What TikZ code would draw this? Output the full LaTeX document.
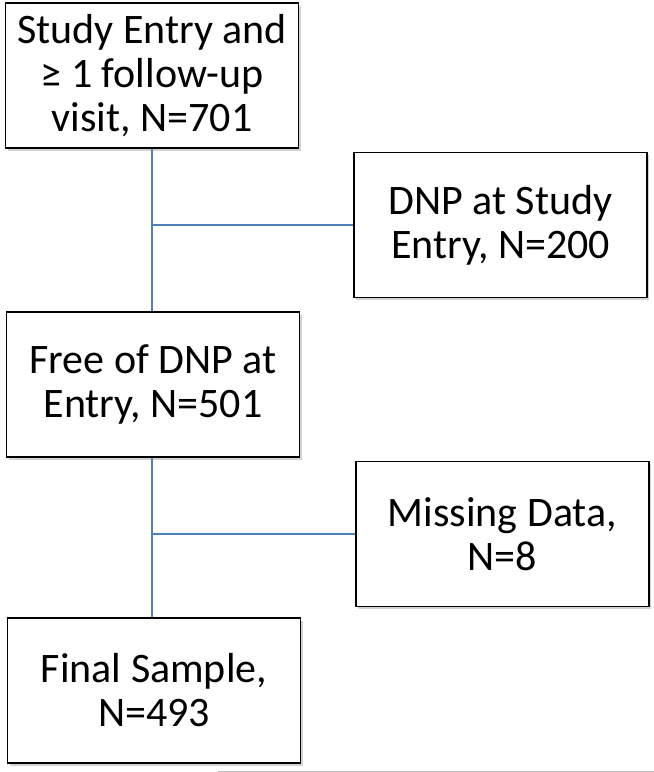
\documentclass[tikz,border=0pt]{standalone}
\usepackage{fontspec}
\setmainfont{Carlito}
\usetikzlibrary{positioning, shadows, backgrounds}

\definecolor{linkblue}{RGB}{79,129,189}

\tikzset{
    stage/.style={draw=black, line width=1.6pt, fill=white, minimum width=293pt, minimum height=145pt,
        align=center, inner sep=2pt, font=\fontsize{42}{44}\selectfont,
        drop shadow={opacity=0.35, shadow xshift=2pt, shadow yshift=-2.5pt}},
    link/.style={draw=linkblue, line width=1.6pt}
}

\begin{document}
\begin{tikzpicture}[x=1pt, y=-1pt]
            \useasboundingbox (0,0) rectangle (654,772);
            % main column
            \node[stage] (entry) at (152,75.5) {Study Entry and\\≥ 1 follow-up\\visit, N=701};
            \node[stage] (free) at (153,384.5) {Free of DNP at\\Entry, N=501};
            \node[stage] (final) at (154,690.5) {Final Sample,\\N=493};
            % exclusions
            \node[stage] (dnp) at (500.5,225) {DNP at Study\\Entry, N=200};
            \node[stage] (missing) at (502.5,534) {Missing Data,\\N=8};
            \begin{scope}[on background layer]
                \draw[link] (entry.south) -- (entry.south |- free.north);
                \draw[link] (entry.south |- dnp.west) -- (dnp.west);
                \draw[link] (entry.south |- free.south) -- (entry.south |- final.north);
                \draw[link] (entry.south |- missing.west) -- (missing.west);
                \draw[gray!50, line width=1pt] (218,771) -- (654,771);
            \end{scope}
        \end{tikzpicture}
\end{document}
